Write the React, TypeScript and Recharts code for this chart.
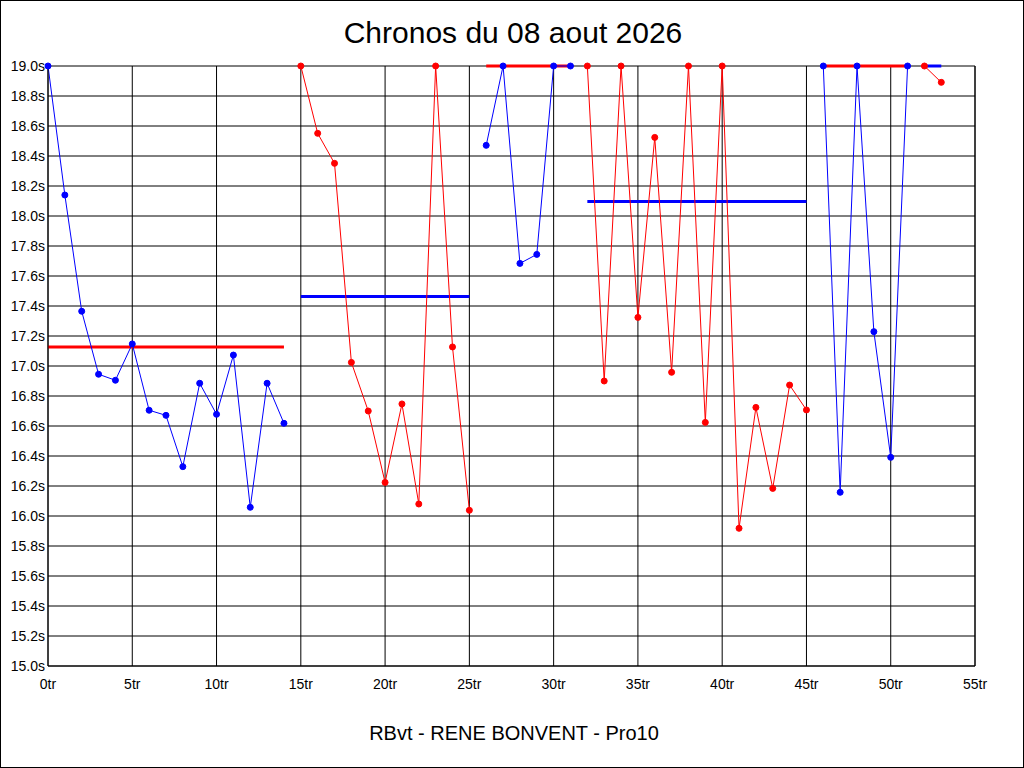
import React from "react";
import { ComposedChart, Line, XAxis, YAxis, CartesianGrid } from "recharts";

const TITLE = "Chronos du 08 aout 2026";
const FOOTER = "RBvt - RENE BONVENT - Pro10";

const xTicks = [0, 5, 10, 15, 20, 25, 30, 35, 40, 45, 50, 55];
const yTicks = [15.0, 15.2, 15.4, 15.6, 15.8, 16.0, 16.2, 16.4, 16.6, 16.8, 17.0, 17.2, 17.4, 17.6, 17.8, 18.0, 18.2, 18.4, 18.6, 18.8, 19.0];

// segment start laps
const seg1Start = 0;
const seg2Start = 15;
const seg3Start = 26;
const seg4Start = 32;
const seg5Start = 46;
const seg6Start = 52;

// lap times (s)
const seg1Values = [19.0, 18.14, 17.365, 16.945, 16.905, 17.147, 16.705, 16.671, 16.329, 16.885, 16.678, 17.073, 16.058, 16.885, 16.618];
const seg2Values = [19.0, 18.551, 18.351, 17.024, 16.7, 16.224, 16.747, 16.08, 19.0, 17.127, 16.038];
const seg3Values = [18.471, 19.0, 17.684, 17.744, 19.0, 19.0];
const seg4Values = [19.0, 16.9, 19.0, 17.324, 18.524, 16.958, 19.0, 16.624, 19.0, 15.918, 16.724, 16.184, 16.873, 16.707];
const seg5Values = [19.0, 16.158, 19.0, 17.229, 16.391, 19.0];
const seg6Values = [19.0, 18.891];

// segment averages
const seg1Avg = 17.127;
const seg2Avg = 17.464;
const seg3Avg = 19.0;
const seg4Avg = 18.096;
const seg5Avg = 19.0;
const seg6Avg = 19.0;

const BLUE = "#0000FF";
const RED = "#FF0000";
const FONT = "'Liberation Sans', Arial, sans-serif";

const build = (start: number, values: number[]) => values.map((v, i) => ({ x: start + i, y: v }));
const avgLine = (start: number, values: number[], avg: number) => [
  { x: start, y: avg },
  { x: start + values.length - 1, y: avg },
];

const segments = [
  { start: seg1Start, values: seg1Values, avg: seg1Avg, color: BLUE, avgColor: RED },
  { start: seg2Start, values: seg2Values, avg: seg2Avg, color: RED, avgColor: BLUE },
  { start: seg3Start, values: seg3Values, avg: seg3Avg, color: BLUE, avgColor: RED },
  { start: seg4Start, values: seg4Values, avg: seg4Avg, color: RED, avgColor: BLUE },
  { start: seg5Start, values: seg5Values, avg: seg5Avg, color: BLUE, avgColor: RED },
  { start: seg6Start, values: seg6Values, avg: seg6Avg, color: RED, avgColor: BLUE },
];

export default function App() {
  const tickStyle = { fill: "#000", fontSize: 14, fontFamily: FONT };
  return (
    <div style={{ position: "absolute", left: 0, top: 0, width: 1024, height: 768, background: "#fff" }}>
      <ComposedChart width={1024} height={768} margin={{ top: 66, left: 8, right: 9, bottom: 72 }}>
        <CartesianGrid yAxisId="l" stroke="#000" strokeWidth={1} horizontalValues={yTicks} verticalValues={xTicks} />
        <XAxis
          type="number"
          dataKey="x"
          domain={[0, 55]}
          ticks={xTicks}
          allowDuplicatedCategory={false}
          tickFormatter={(v: number) => `${v}tr`}
          tick={tickStyle}
          tickLine={false}
          tickSize={0}
          tickMargin={13}
          height={30}
          axisLine={{ stroke: "#000" }}
          interval={0}
        />
        <YAxis
          yAxisId="l"
          type="number"
          domain={[15, 19]}
          ticks={yTicks}
          tickFormatter={(v: number) => `${v.toFixed(1)}s`}
          tick={tickStyle}
          tickLine={false}
          tickSize={0}
          tickMargin={3}
          width={40}
          axisLine={{ stroke: "#000" }}
          interval={0}
        />
        <YAxis
          yAxisId="r"
          orientation="right"
          type="number"
          domain={[15, 19]}
          ticks={yTicks}
          tickFormatter={(v: number) => `${v.toFixed(1)}s`}
          tick={tickStyle}
          tickLine={false}
          tickSize={0}
          tickMargin={4}
          width={40}
          axisLine={{ stroke: "#000" }}
          interval={0}
        />
        {segments.map((s, i) => (
          <Line
            key={`avg${i}`}
            yAxisId="l"
            data={avgLine(s.start, s.values, s.avg)}
            dataKey="y"
            stroke={s.avgColor}
            strokeWidth={3}
            dot={false}
            activeDot={false}
            isAnimationActive={false}
            type="linear"
          />
        ))}
        {segments.map((s, i) => (
          <Line
            key={`seg${i}`}
            yAxisId="l"
            data={build(s.start, s.values)}
            dataKey="y"
            stroke={s.color}
            strokeWidth={1}
            dot={{ r: 3, fill: s.color, stroke: s.color, strokeWidth: 1, clipDot: false }}
            activeDot={false}
            isAnimationActive={false}
            type="linear"
          />
        ))}
      </ComposedChart>
      <svg
        width={1024}
        height={768}
        style={{ position: "absolute", left: 0, top: 0, pointerEvents: "none" }}
      >
        <rect x={0.5} y={0.5} width={1023} height={767} fill="none" stroke="#000" strokeWidth={1} />
        <text x={513} y={43} textAnchor="middle" fontFamily={FONT} fontSize={30} fill="#000">
          {TITLE}
        </text>
        <text x={514} y={740} textAnchor="middle" fontFamily={FONT} fontSize={20} fill="#000">
          {FOOTER}
        </text>
      </svg>
    </div>
  );
}
